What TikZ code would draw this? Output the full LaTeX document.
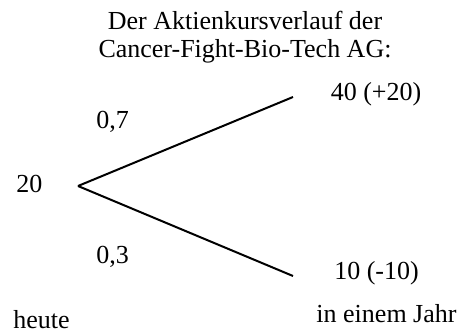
\documentclass[tikz,border=0pt]{standalone}
\usepackage{fontspec}
\setmainfont{Liberation Serif}
\usetikzlibrary{positioning}
\tikzset{
  branch/.style={line width=1pt,black},
  lbl/.style={font=\fontsize{13}{14}\selectfont,inner sep=0pt,anchor=base},
  every picture/.style={x=0.5pt,y=0.5pt}
}
\begin{document}
\begin{tikzpicture}
  \useasboundingbox (0,0) rectangle (460,333);
  \node[lbl,align=center] (title) at (245,276) {Der Aktienkursverlauf der\\Cancer-Fight-Bio-Tech AG:};
  \coordinate (root) at (78,147); \coordinate (up) at (293,236); \coordinate (down) at (293,57);
  \draw[branch] (root) -- (up); \draw[branch] (root) -- (down);
  \node[lbl] (start) at (29.5,141) {20};
  \node[lbl] (pup) at (112.5,205) {0,7}; \node[lbl] (pdown) at (112.5,70) {0,3};
  \node[lbl] (vup) at (376,233) {40 (+20)}; \node[lbl] (vdown) at (376.5,54) {10 (-10)};
  \node[lbl] (today) at (41.5,5) {heute}; \node[lbl] (year) at (386.5,11) {in einem Jahr};
\end{tikzpicture}
\end{document}
